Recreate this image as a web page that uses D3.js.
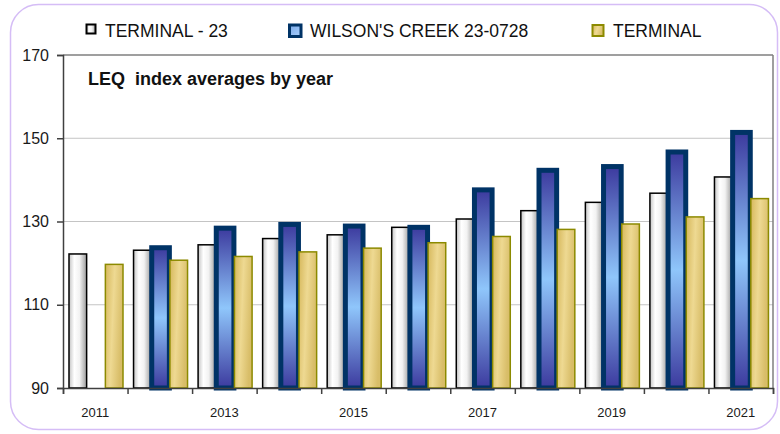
<!DOCTYPE html>
<html>
<head>
<meta charset="utf-8">
<script src="https://cdn.jsdelivr.net/npm/d3@7"></script>
<style>
    body { margin: 0; background: #fff; }
    svg { display: block; font-family: "Liberation Sans", Arial, sans-serif; }
    .axis text { fill: #1a1a1a; }
</style>
</head>
<body>
<svg width="780" height="434"></svg>
<script>
// values
const years = ['2011', '2012', '2013', '2014', '2015', '2016', '2017', '2018', '2019', '2020', '2021'];
const terminal23 = [122.2, 123.1, 124.4, 125.9, 126.8, 128.6, 130.6, 132.6, 134.6, 136.8, 140.7];
const wilsonsCreek = [null, 123.7, 128.4, 129.3, 128.9, 128.6, 137.6, 142.3, 143.2, 146.7, 151.4];
const terminal = [119.7, 120.7, 121.6, 122.7, 123.6, 124.9, 126.4, 128.1, 129.4, 131.1, 135.5];
const seriesNames = ['TERMINAL - 23', "WILSON'S CREEK 23-0728", 'TERMINAL'];
const yTicks = [90, 110, 130, 150, 170];

let svg = d3.select('svg'),
    margin = {left: 63, top: 55, right: 7, bottom: 46},
    width = 780 - margin.left - margin.right,
    height = 434 - margin.top - margin.bottom;

let defs = svg.append('defs');
function grad(id, x2, y2, stops) {
    let g = defs.append('linearGradient').attr('id', id)
        .attr('x1', 0).attr('y1', 0).attr('x2', x2).attr('y2', y2);
    stops.forEach(s => g.append('stop').attr('offset', s[0]).attr('stop-color', s[1]));
}
grad('g-white', 1, 0, [[0, '#c4c4c4'], [0.3, '#ffffff'], [0.6, '#f2f2f2'], [1, '#9c9c9c']]);
grad('g-blue', 0, 1, [[0, '#3c3a9e'], [0.5, '#8fc6fb'], [1, '#3c3a9e']]);
grad('g-yellow', 1, 0.3, [[0, '#d6b85c'], [0.5, '#eed992'], [1, '#d8bd68']]);
grad('g-blue-key', 1, 1, [[0, '#7aa8e6'], [1, '#a8d0ff']]);

// outer rounded frame
svg.append('rect')
    .attr('x', 10.5).attr('y', 4.5)
    .attr('width', 767).attr('height', 425)
    .attr('rx', 28)
    .attr('fill', '#fff')
    .attr('stroke', '#d5bdf6')
    .attr('stroke-width', 1.5);

let g = svg.append('g').attr('transform', `translate(${margin.left},${margin.top})`);

let x = d3.scaleBand().domain(years).range([0, width]);
let x1 = d3.scaleBand().domain([0, 1, 2]).range([6, 60]).paddingInner(0.03);
let y = d3.scaleLinear().domain([90, 170]).range([height, 0]);

// gridlines
g.append('g').selectAll('line').data([110, 130, 150]).enter().append('line')
    .attr('x1', 0).attr('x2', width)
    .attr('y1', d => y(d)).attr('y2', d => y(d))
    .attr('stroke', '#c4c4c4').attr('stroke-width', 1);

// plot frame top/right
g.append('line').attr('x1', 0).attr('x2', width).attr('y1', 0).attr('y2', 0)
    .attr('stroke', '#7f7f7f').attr('stroke-width', 1.5);
g.append('line').attr('x1', width).attr('x2', width).attr('y1', 0).attr('y2', height)
    .attr('stroke', '#7f7f7f').attr('stroke-width', 1.5);

// bars
let styles = [
    {fill: 'url(#g-white)', stroke: '#000', sw: 1.5},
    {fill: 'url(#g-blue)', stroke: '#003366', sw: 5},
    {fill: 'url(#g-yellow)', stroke: '#8c8a00', sw: 1.5}
];
[terminal23, wilsonsCreek, terminal].forEach((vals, s) => {
    g.append('g').selectAll('rect')
        .data(vals.map((v, i) => [years[i], v]).filter(d => d[1] != null))
        .enter().append('rect')
        .attr('x', d => x(d[0]) + x1(s))
        .attr('width', x1.bandwidth())
        .attr('y', d => y(d[1]))
        .attr('height', d => height - y(d[1]))
        .attr('fill', styles[s].fill)
        .attr('stroke', styles[s].stroke)
        .attr('stroke-width', styles[s].sw);
});

// y axis
let yAxis = g.append('g').attr('class', 'axis')
    .call(d3.axisLeft(y).tickValues(yTicks).tickSize(6).tickPadding(8));
yAxis.select('.domain').attr('stroke', '#404040').attr('stroke-width', 1.5);
yAxis.selectAll('line').attr('stroke', '#404040').attr('stroke-width', 1.5);
yAxis.selectAll('text').attr('font-size', 16).attr('fill', '#1a1a1a');

// x axis: ticks at band edges, labels on odd years
let xb = d3.scaleLinear().domain([0, years.length]).range([0, width]);
let xAxis = g.append('g').attr('class', 'axis')
    .attr('transform', `translate(0,${height})`)
    .call(d3.axisBottom(xb).tickValues(d3.range(years.length + 1)).tickSize(6).tickFormat(''));
xAxis.select('.domain').attr('stroke', '#404040').attr('stroke-width', 1.5);
xAxis.selectAll('line').attr('stroke', '#404040').attr('stroke-width', 1.5);

let xLabels = g.append('g').attr('class', 'axis')
    .attr('transform', `translate(0,${height})`)
    .call(d3.axisBottom(x).tickSize(0).tickPadding(20)
        .tickFormat(d => (+d % 2 === 1 ? d : '')));
xLabels.select('.domain').remove();
xLabels.selectAll('text').attr('font-size', 13).attr('fill', '#1a1a1a');

// title
svg.append('text')
    .attr('x', 88).attr('y', 85)
    .attr('font-size', 18).attr('font-weight', 'bold')
    .attr('fill', '#111')
    .attr('xml:space', 'preserve')
    .text('LEQ  index averages by year');

// legend
let legendPos = [
    {key: [86.5, 24.5, 9, 9], text: 105},
    {key: [289.5, 25, 11.5, 11.5], text: 310},
    {key: [592.5, 25, 11, 11], text: 613}
];
let keyStyles = [
    {fill: 'url(#g-white)', stroke: '#000', sw: 2},
    {fill: 'url(#g-blue-key)', stroke: '#003366', sw: 3},
    {fill: 'url(#g-yellow)', stroke: '#8c8a00', sw: 2}
];
let legend = svg.append('g').selectAll('g').data(seriesNames).enter().append('g');
legend.append('rect')
    .attr('x', (d, i) => legendPos[i].key[0])
    .attr('y', (d, i) => legendPos[i].key[1])
    .attr('width', (d, i) => legendPos[i].key[2])
    .attr('height', (d, i) => legendPos[i].key[3])
    .attr('fill', (d, i) => keyStyles[i].fill)
    .attr('stroke', (d, i) => keyStyles[i].stroke)
    .attr('stroke-width', (d, i) => keyStyles[i].sw);
legend.append('text')
    .attr('x', (d, i) => legendPos[i].text)
    .attr('y', 37)
    .attr('font-size', 17.5)
    .attr('fill', '#111')
    .text(d => d);
</script>
</body>
</html>
